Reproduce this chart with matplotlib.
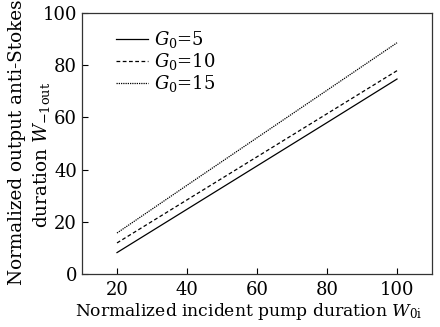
import numpy as np
import matplotlib
matplotlib.use("Agg")
import matplotlib.pyplot as plt

# 数据
w0i = [20, 40, 60, 80, 100]
w_g5 = [8.2, 24.8, 41.4, 58.0, 74.7]
w_g10 = [11.9, 28.4, 44.9, 61.4, 77.9]
w_g15 = [15.7, 34.0, 52.2, 70.4, 88.6]
labels = ['$G_0$=5', '$G_0$=10', '$G_0$=15']

plt.rcParams['font.family'] = ['DejaVu Serif']
plt.rcParams['mathtext.fontset'] = 'dejavuserif'

fig = plt.figure(figsize=(4.4, 3.27), dpi=100)
ax = fig.add_axes([82/440, 53/327, 350/440, 261/327])

ax.plot(w0i, w_g5, color='black', lw=0.9, ls='-', label=labels[0])
ax.plot(w0i, w_g10, color='black', lw=0.9, ls=(0, (3, 2)), label=labels[1])
ax.plot(w0i, w_g15, color='black', lw=0.9, ls=(0, (1, 0.8)), label=labels[2])

ax.set_xlim(10, 110)
ax.set_ylim(0, 100)
ax.set_xticks([20, 40, 60, 80, 100])
ax.set_yticks([0, 20, 40, 60, 80, 100])
ax.tick_params(direction='in', labelsize=13, length=4, width=0.8)
ax.tick_params(axis='x', pad=5)
for s in ax.spines.values():
    s.set_linewidth(0.9)
    s.set_color('#333333')

ax.set_xlabel('Normalized incident pump duration $W_{\\mathrm{0i}}$', fontsize=12.3)
ax.xaxis.set_label_coords(0.475, -0.105)

# y 轴标题分两行, 分别放置
fig.text(17/440, 1 - 142/327, 'Normalized output anti-Stokes', rotation=90,
         ha='center', va='center', fontsize=13.2)
fig.text(41/440, 1 - 155/327, 'duration $W_{-\\mathrm{1out}}$', rotation=90,
         ha='center', va='center', fontsize=13.2)

ax.legend(loc='upper left', bbox_to_anchor=(0.065, 0.98), frameon=False, fontsize=13,
          handlelength=1.8, handletextpad=0.3, labelspacing=0.05, borderaxespad=0.2)

fig.savefig('out.png', dpi=100)
